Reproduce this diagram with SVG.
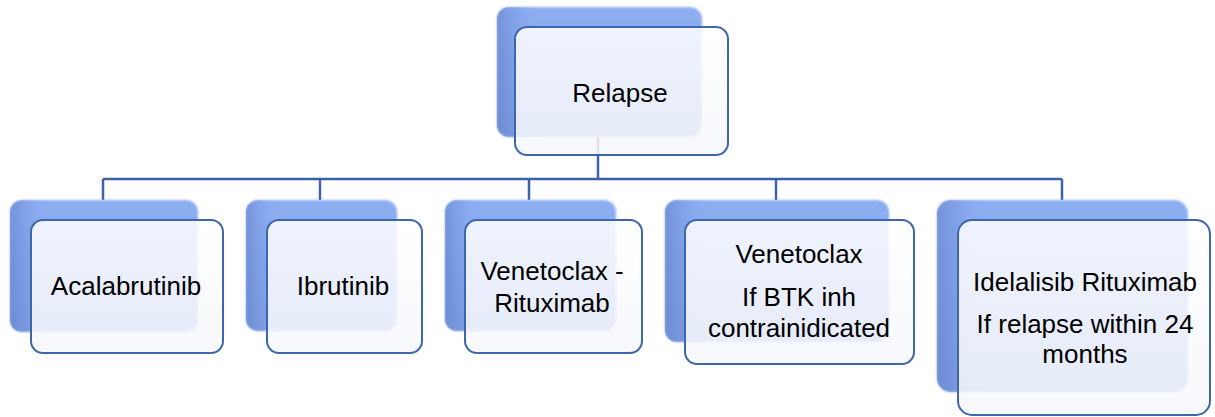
<svg xmlns="http://www.w3.org/2000/svg" width="1215" height="417" viewBox="0 0 1215 417">
<defs>
<linearGradient id="backGrad" x1="0" y1="0" x2="0" y2="1">
<stop offset="0" stop-color="#8eaef2"/>
<stop offset="1" stop-color="#7d9ee3"/>
</linearGradient>
<linearGradient id="bevel" x1="0" y1="0" x2="1" y2="0">
<stop offset="0" stop-color="#5d7bc2" stop-opacity="0.55"/>
<stop offset="0.1" stop-color="#6f8fd6" stop-opacity="0.25"/>
<stop offset="0.2" stop-color="#8aaaf0" stop-opacity="0"/>
</linearGradient>
<linearGradient id="frontGrad" x1="0" y1="0" x2="0" y2="1">
<stop offset="0" stop-color="#ffffff"/>
<stop offset="1" stop-color="#f6f7fb"/>
</linearGradient>
<filter id="soft" x="-5%" y="-5%" width="110%" height="110%">
<feGaussianBlur stdDeviation="1"/>
</filter>
</defs>
<style>
.back{fill:url(#backGrad);filter:url(#soft);}
.bev{fill:url(#bevel);}
.front{fill:url(#frontGrad);fill-opacity:0.86;stroke:#3e66ad;stroke-width:2;}
.conn{fill:none;stroke:#3c62a6;stroke-width:2.5;}
.lbl{font-family:"Liberation Sans",Arial,sans-serif;font-size:26px;fill:#000;text-anchor:middle;}
</style>
<g id="connectors">
<path class="conn" d="M598,137 V179 M103,179 H1062 M103,179 V200 M320,179 V200 M529,179 V200 M776,179 V200 M1062,179 V200"/>
</g>
<g id="node-relapse">
<rect class="back" x="497" y="7" width="205" height="130" rx="12"/>
<rect class="bev" x="497" y="7" width="205" height="130" rx="12"/>
<rect class="front" x="515" y="27" width="213" height="128" rx="12"/>
<text class="lbl" x="620" y="102">Relapse</text>
</g>
<g id="node-acalabrutinib">
<rect class="back" x="10" y="200" width="188" height="132" rx="12"/>
<rect class="bev" x="10" y="200" width="188" height="132" rx="12"/>
<rect class="front" x="31" y="220" width="192" height="133" rx="12"/>
<text class="lbl" x="126" y="295">Acalabrutinib</text>
</g>
<g id="node-ibrutinib">
<rect class="back" x="246" y="200" width="151" height="131" rx="12"/>
<rect class="bev" x="246" y="200" width="151" height="131" rx="12"/>
<rect class="front" x="267" y="220" width="155" height="133" rx="12"/>
<text class="lbl" x="343" y="295">Ibrutinib</text>
</g>
<g id="node-venetoclax-rituximab">
<rect class="back" x="445" y="200" width="171" height="131" rx="12"/>
<rect class="bev" x="445" y="200" width="171" height="131" rx="12"/>
<rect class="front" x="465" y="220" width="177" height="133" rx="12"/>
<text class="lbl" x="552" y="280">Venetoclax -</text>
<text class="lbl" x="552" y="312">Rituximab</text>
</g>
<g id="node-venetoclax">
<rect class="back" x="665" y="200" width="224" height="142" rx="12"/>
<rect class="bev" x="665" y="200" width="224" height="142" rx="12"/>
<rect class="front" x="685" y="220" width="229" height="144" rx="12"/>
<text class="lbl" x="799" y="263">Venetoclax</text>
<text class="lbl" x="799" y="306">If BTK inh</text>
<text class="lbl" x="799" y="337">contrainidicated</text>
</g>
<g id="node-idelalisib">
<rect class="back" x="937" y="200" width="251" height="192" rx="14"/>
<rect class="bev" x="937" y="200" width="251" height="192" rx="14"/>
<rect class="front" x="958" y="220" width="252" height="195" rx="14"/>
<text class="lbl" x="1085" y="291">Idelalisib Rituximab</text>
<text class="lbl" x="1085" y="333">If relapse within 24</text>
<text class="lbl" x="1085" y="363">months</text>
</g>
</svg>
